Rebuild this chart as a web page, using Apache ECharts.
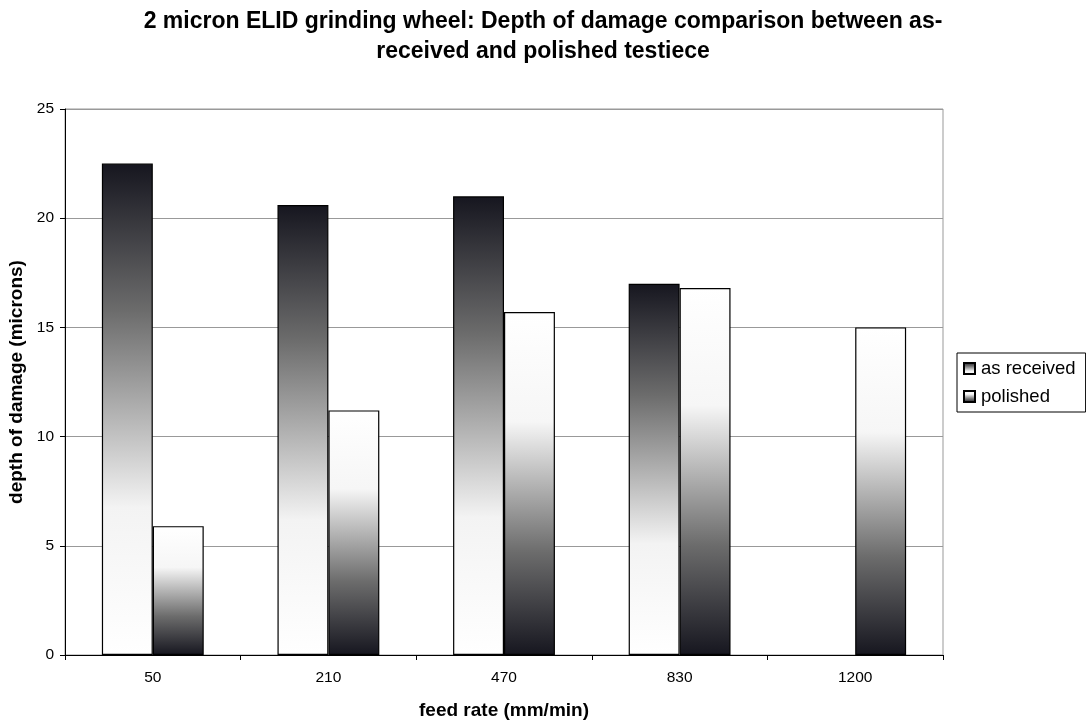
<!DOCTYPE html>
<html>
<head>
<meta charset="utf-8">
<script src="https://cdn.jsdelivr.net/npm/echarts@6/dist/echarts.min.js"></script>
<style>
  html, body { margin: 0; padding: 0; background: #fff; }
  #chart { width: 1086px; height: 720px; }
</style>
</head>
<body>
<div id="chart"></div>
<script>
// Feed rates (mm/min) and measured depth of damage (microns)
const feedRates = ['50', '210', '470', '830', '1200'];
const asReceived = [22.5, 20.6, 21.0, 17.0, null];
const polished = [5.9, 11.2, 15.7, 16.8, 15.0];
const yTicks = { min: 0, max: 25, step: 5 };

// Shaded bar fills: dark-to-white and white-to-dark, top to bottom
const fillDown = new echarts.graphic.LinearGradient(0, 0, 0, 1, [
  { offset: 0, color: '#16161f' },
  { offset: 0.3, color: '#6c6c6c' },
  { offset: 0.7, color: '#f3f3f3' },
  { offset: 1, color: '#ffffff' }
]);
const fillUp = new echarts.graphic.LinearGradient(0, 0, 0, 1, [
  { offset: 0, color: '#ffffff' },
  { offset: 0.32, color: '#f6f6f6' },
  { offset: 0.7, color: '#6c6c6c' },
  { offset: 1, color: '#16161f' }
]);

const fontFamily = 'Liberation Sans, Arial, sans-serif';

const chart = echarts.init(document.getElementById('chart'), null, { renderer: 'canvas' });
chart.setOption({
  animation: false,
  backgroundColor: '#ffffff',
  textStyle: { fontFamily: fontFamily },
  title: {
    text: '2 micron ELID grinding wheel: Depth of damage comparison between as-\nreceived and polished testiece',
    left: 'center',
    top: 2,
    textStyle: { fontSize: 23, fontWeight: 'bold', color: '#000', lineHeight: 30,
                 fontFamily: fontFamily }
  },
  legend: {
    orient: 'vertical',
    left: 957,
    top: 353,
    padding: [6, 10, 6, 6],
    itemGap: 9,
    itemWidth: 11,
    itemHeight: 11,
    borderColor: '#000',
    borderWidth: 1,
    icon: 'rect',
    textStyle: { fontSize: 18.5, color: '#000', padding: [0, 0, 0, 1] },
    data: ['as received', 'polished']
  },
  grid: {
    left: 65, right: 143, top: 109, bottom: 65,
    outerBoundsMode: 'none',
    containLabel: false,
    show: true, borderColor: '#999', borderWidth: 1
  },
  xAxis: {
    type: 'category',
    data: feedRates,
    name: 'feed rate (mm/min)',
    nameLocation: 'middle',
    nameGap: 46,
    nameTextStyle: { fontSize: 19, fontWeight: 'bold', color: '#000' },
    axisLine: { lineStyle: { color: '#000', width: 1 } },
    axisTick: { show: true, length: 5, lineStyle: { color: '#000' } },
    axisLabel: { fontSize: 15.5, color: '#000', margin: 15 }
  },
  yAxis: {
    type: 'value',
    min: yTicks.min,
    max: yTicks.max,
    interval: yTicks.step,
    name: 'depth of damage (microns)',
    nameLocation: 'middle',
    nameGap: 39,
    nameTextStyle: { fontSize: 19, fontWeight: 'bold', color: '#000' },
    axisLine: { show: true, lineStyle: { color: '#000', width: 1 } },
    axisTick: { show: true, length: 5, lineStyle: { color: '#000' } },
    axisLabel: { fontSize: 15.5, color: '#000', margin: 11 },
    splitLine: { show: true, lineStyle: { color: '#999', width: 1 } }
  },
  series: [
    {
      name: 'as received',
      type: 'bar',
      data: asReceived,
      barWidth: '29%',
      barGap: '0%',
      itemStyle: { color: fillDown, borderColor: '#000', borderWidth: 1.2 }
    },
    {
      name: 'polished',
      type: 'bar',
      data: polished,
      barWidth: '29%',
      barGap: '0%',
      itemStyle: { color: fillUp, borderColor: '#000', borderWidth: 1.2 }
    }
  ]
});
</script>
</body>
</html>
